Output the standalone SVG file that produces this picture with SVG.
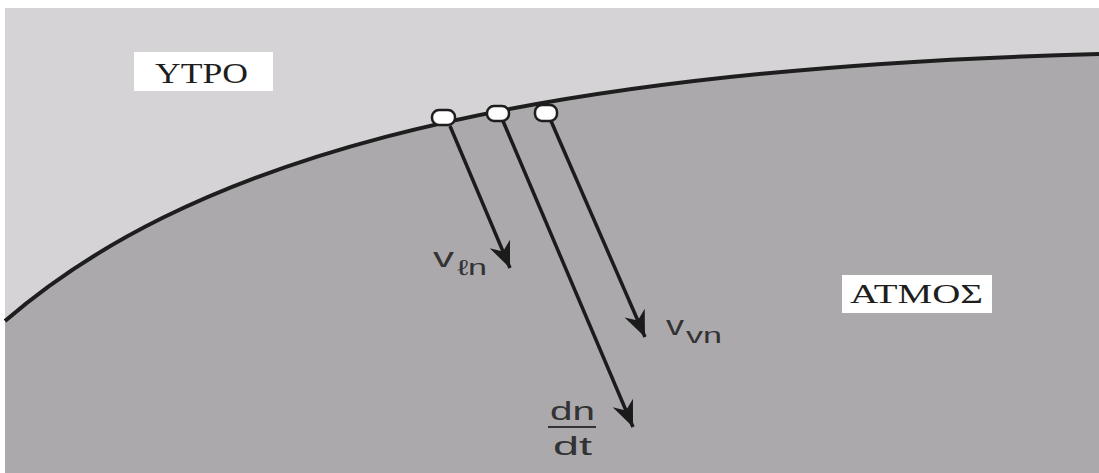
<svg xmlns="http://www.w3.org/2000/svg" width="1099" height="473" viewBox="0 0 1099 473">
  <defs>
    <style>
      .lbl { font-family: "Liberation Serif", "DejaVu Serif", serif; fill: #1e1e1e; }
      .sym { font-family: "Liberation Sans", "DejaVu Sans", sans-serif; fill: #333; }
      .vec { fill: none; stroke: #1b1b1b; stroke-width: 3.5; marker-end: url(#ah); }
      .pt { fill: #ffffff; stroke: #1e1e1e; stroke-width: 2.5; }
      .box { fill: #ffffff; }
    </style>
    <marker id="ah" markerUnits="userSpaceOnUse" markerWidth="30" markerHeight="26" viewBox="-27 -13 30 26" refX="0" refY="0" orient="auto">
      <path d="M0,0 L-26,-11 L-18,0 L-26,11 Z" fill="#1b1b1b"/>
    </marker>
  </defs>

  <rect x="0" y="0" width="1099" height="473" fill="#ffffff"/>
  <rect x="5" y="8" width="1094" height="465" fill="#aca9ad"/>
  <path d="M5 8 H1099 V54 C 480 70, 180 170, 5 321 Z" fill="#d5d3d5"/>

  <path id="interface" d="M 5 321 C 180 170, 480 70, 1099 54" fill="none" stroke="#1e1e1e" stroke-width="4"/>

  <g id="connectors">
    <path class="vec" d="M450 126 L510 268"/>
    <path class="vec" d="M503 121 L633 427"/>
    <path class="vec" d="M551 121 L645 337"/>
  </g>

  <g id="molecule-1"><rect class="pt" x="432" y="110" width="23" height="15" rx="7"/></g>
  <g id="molecule-2"><rect class="pt" x="487" y="106" width="22" height="15" rx="7"/></g>
  <g id="molecule-3"><rect class="pt" x="535" y="105" width="22" height="16" rx="7"/></g>

  <g id="liquid-label">
    <rect class="box" x="134" y="52" width="139" height="39"/>
    <text class="lbl" x="155" y="83" font-size="30" textLength="93" lengthAdjust="spacingAndGlyphs">YTPO</text>
  </g>

  <g id="vapor-label">
    <rect class="box" x="842" y="275" width="150" height="38"/>
    <text class="lbl" x="850" y="303" font-size="27" textLength="133" lengthAdjust="spacingAndGlyphs">ΑΤΜΟΣ</text>
  </g>

  <g id="label-vln">
    <text class="sym" x="433" y="267" font-size="28" textLength="21" lengthAdjust="spacingAndGlyphs">v</text>
    <text class="sym" x="457" y="275" font-size="22" textLength="30" lengthAdjust="spacingAndGlyphs">ℓn</text>
  </g>

  <g id="label-vvn">
    <text class="sym" x="666" y="335" font-size="28" textLength="18" lengthAdjust="spacingAndGlyphs">v</text>
    <text class="sym" x="686" y="343" font-size="22" textLength="36" lengthAdjust="spacingAndGlyphs">vn</text>
  </g>

  <g id="label-dndt">
    <text class="sym" x="550" y="420" font-size="26" textLength="45" lengthAdjust="spacingAndGlyphs">dn</text>
    <line x1="548" y1="427" x2="596" y2="427" stroke="#333" stroke-width="2"/>
    <text class="sym" x="553" y="455" font-size="26" textLength="39" lengthAdjust="spacingAndGlyphs">dt</text>
  </g>
</svg>
